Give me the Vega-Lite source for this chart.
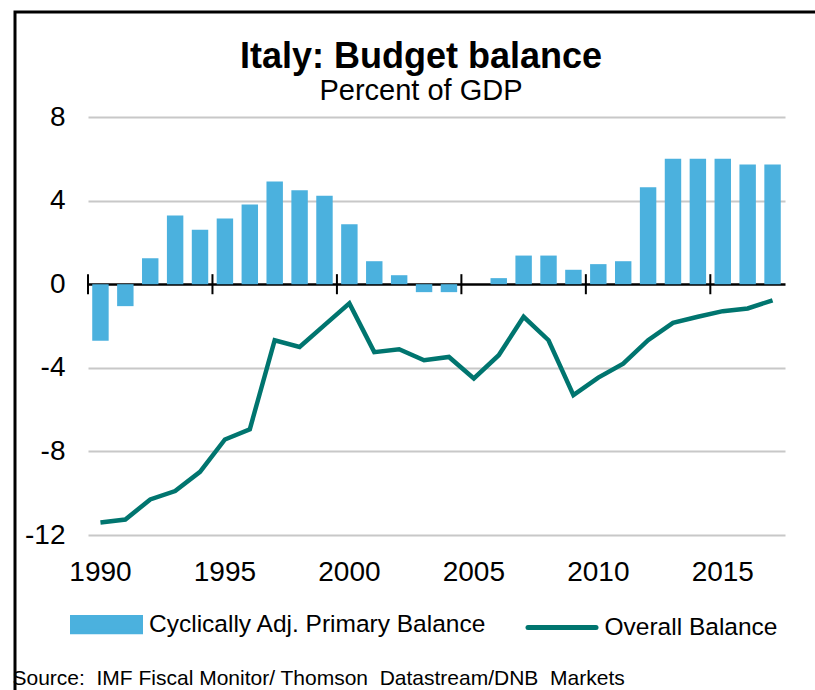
{
  "$schema": "https://vega.github.io/schema/vega-lite/v6.json",
  "width": 800,
  "height": 678,
  "autosize": {"type": "none"},
  "padding": {"left": 15, "top": 12, "right": 0, "bottom": 0},
  "background": "white",
  "config": {
    "font": "Liberation Sans",
    "view": {"stroke": "black", "strokeWidth": 3, "strokeDash": [800, 1478, 700]}
  },
  "title": {
    "text": "Italy: Budget balance",
    "subtitle": "Percent of GDP",
    "fontSize": 36,
    "fontWeight": "bold",
    "subtitleFontSize": 29,
    "color": "black",
    "subtitleColor": "black",
    "anchor": "middle",
    "frame": "group",
    "offset": -95,
    "subtitlePadding": 1,
    "dx": 6
  },
  "datasets": {
    "capb": [
      {"year": 1990, "value": -2.7, "series": "Cyclically Adj. Primary Balance"},
      {"year": 1991, "value": -1.05, "series": "Cyclically Adj. Primary Balance"},
      {"year": 1992, "value": 1.24, "series": "Cyclically Adj. Primary Balance"},
      {"year": 1993, "value": 3.29, "series": "Cyclically Adj. Primary Balance"},
      {"year": 1994, "value": 2.6, "series": "Cyclically Adj. Primary Balance"},
      {"year": 1995, "value": 3.14, "series": "Cyclically Adj. Primary Balance"},
      {"year": 1996, "value": 3.81, "series": "Cyclically Adj. Primary Balance"},
      {"year": 1997, "value": 4.91, "series": "Cyclically Adj. Primary Balance"},
      {"year": 1998, "value": 4.5, "series": "Cyclically Adj. Primary Balance"},
      {"year": 1999, "value": 4.23, "series": "Cyclically Adj. Primary Balance"},
      {"year": 2000, "value": 2.87, "series": "Cyclically Adj. Primary Balance"},
      {"year": 2001, "value": 1.1, "series": "Cyclically Adj. Primary Balance"},
      {"year": 2002, "value": 0.43, "series": "Cyclically Adj. Primary Balance"},
      {"year": 2003, "value": -0.38, "series": "Cyclically Adj. Primary Balance"},
      {"year": 2004, "value": -0.38, "series": "Cyclically Adj. Primary Balance"},
      {"year": 2005, "value": 0, "series": "Cyclically Adj. Primary Balance"},
      {"year": 2006, "value": 0.29, "series": "Cyclically Adj. Primary Balance"},
      {"year": 2007, "value": 1.37, "series": "Cyclically Adj. Primary Balance"},
      {"year": 2008, "value": 1.37, "series": "Cyclically Adj. Primary Balance"},
      {"year": 2009, "value": 0.69, "series": "Cyclically Adj. Primary Balance"},
      {"year": 2010, "value": 0.96, "series": "Cyclically Adj. Primary Balance"},
      {"year": 2011, "value": 1.1, "series": "Cyclically Adj. Primary Balance"},
      {"year": 2012, "value": 4.64, "series": "Cyclically Adj. Primary Balance"},
      {"year": 2013, "value": 6.0, "series": "Cyclically Adj. Primary Balance"},
      {"year": 2014, "value": 6.0, "series": "Cyclically Adj. Primary Balance"},
      {"year": 2015, "value": 6.0, "series": "Cyclically Adj. Primary Balance"},
      {"year": 2016, "value": 5.73, "series": "Cyclically Adj. Primary Balance"},
      {"year": 2017, "value": 5.73, "series": "Cyclically Adj. Primary Balance"}
    ],
    "overall": [
      {"year": 1990, "value": -11.4, "series": "Overall Balance"},
      {"year": 1991, "value": -11.26, "series": "Overall Balance"},
      {"year": 1992, "value": -10.3, "series": "Overall Balance"},
      {"year": 1993, "value": -9.9, "series": "Overall Balance"},
      {"year": 1994, "value": -8.98, "series": "Overall Balance"},
      {"year": 1995, "value": -7.43, "series": "Overall Balance"},
      {"year": 1996, "value": -6.94, "series": "Overall Balance"},
      {"year": 1997, "value": -2.68, "series": "Overall Balance"},
      {"year": 1998, "value": -3.0, "series": "Overall Balance"},
      {"year": 1999, "value": -1.96, "series": "Overall Balance"},
      {"year": 2000, "value": -0.92, "series": "Overall Balance"},
      {"year": 2001, "value": -3.25, "series": "Overall Balance"},
      {"year": 2002, "value": -3.11, "series": "Overall Balance"},
      {"year": 2003, "value": -3.64, "series": "Overall Balance"},
      {"year": 2004, "value": -3.48, "series": "Overall Balance"},
      {"year": 2005, "value": -4.51, "series": "Overall Balance"},
      {"year": 2006, "value": -3.4, "series": "Overall Balance"},
      {"year": 2007, "value": -1.56, "series": "Overall Balance"},
      {"year": 2008, "value": -2.68, "series": "Overall Balance"},
      {"year": 2009, "value": -5.31, "series": "Overall Balance"},
      {"year": 2010, "value": -4.47, "series": "Overall Balance"},
      {"year": 2011, "value": -3.8, "series": "Overall Balance"},
      {"year": 2012, "value": -2.68, "series": "Overall Balance"},
      {"year": 2013, "value": -1.85, "series": "Overall Balance"},
      {"year": 2014, "value": -1.56, "series": "Overall Balance"},
      {"year": 2015, "value": -1.29, "series": "Overall Balance"},
      {"year": 2016, "value": -1.16, "series": "Overall Balance"},
      {"year": 2017, "value": -0.77, "series": "Overall Balance"}
    ],
    "ticks": [
      {"year": 1990}, {"year": 1995}, {"year": 2000}, {"year": 2005}, {"year": 2010}, {"year": 2015}
    ],
    "note": [
      {"text": "Source:\u00a0 IMF Fiscal Monitor/ Thomson\u00a0 Datastream/DNB\u00a0 Markets"}
    ]
  },
  "layer": [
    {
      "data": {"name": "capb"},
      "mark": {"type": "bar", "width": {"band": 0.66}},
      "encoding": {
        "x": {
          "field": "year",
          "type": "ordinal",
          "scale": {"type": "band", "range": [73, 770], "paddingInner": 0, "paddingOuter": 0},
          "axis": {
            "values": [1990, 1995, 2000, 2005, 2010, 2015],
            "labelAngle": 0,
            "domain": false,
            "ticks": false,
            "tickSize": 0,
            "grid": false,
            "labelFontSize": 28,
            "labelColor": "black",
            "labelPadding": 4,
            "offset": -136,
            "title": null
          }
        },
        "y": {
          "field": "value",
          "type": "quantitative",
          "scale": {"domain": [-12, 8], "range": [523, 105], "nice": false, "zero": false},
          "axis": {
            "values": [-12, -8, -4, 0, 4, 8],
            "labelExpr": "'' + datum.value",
            "labelAlign": "right",
            "labelFlush": false,
            "grid": true,
            "gridColor": {"condition": {"test": "datum.value === 0", "value": "black"}, "value": "#c8c8c8"},
            "gridWidth": {"condition": {"test": "datum.value === 0", "value": 2.5}, "value": 2},
            "domain": false,
            "ticks": false,
            "tickSize": 0,
            "labelFontSize": 28,
            "labelColor": "black",
            "labelPadding": 4,
            "labelLimit": 0,
            "offset": -54,
            "title": null
          }
        },
        "color": {
          "field": "series",
          "type": "nominal",
          "scale": {"domain": ["Cyclically Adj. Primary Balance", "Overall Balance"], "range": ["#4bb1de", "#00756f"]},
          "legend": {
            "title": null,
            "orient": "none",
            "legendX": 55,
            "legendY": 576,
            "direction": "horizontal",
            "labelFontSize": 24.5,
            "labelColor": "black",
            "labelOffset": 6,
            "columnPadding": 30.5,
            "symbolSize": 4624,
            "symbolStrokeWidth": 5,
            "labelLimit": 500,
            "encode": {
              "symbols": {
                "update": {
                  "shape": {"signal": "datum.value === 'Overall Balance' ? 'M-1,0H1' : 'M-1,-0.21H1V0.21H-1Z'"},
                  "fill": {"signal": "datum.value === 'Overall Balance' ? 'transparent' : '#4bb1de'"},
                  "stroke": {"signal": "datum.value === 'Overall Balance' ? '#00756f' : 'transparent'"},
                  "strokeWidth": {"value": 5},
                  "strokeCap": {"value": "round"},
                  "opacity": {"value": 1}
                }
              }
            }
          }
        }
      }
    },
    {
      "data": {"name": "overall"},
      "mark": {"type": "line", "strokeWidth": 4.5, "strokeJoin": "miter"},
      "encoding": {
        "x": {"field": "year", "type": "ordinal"},
        "y": {"field": "value", "type": "quantitative"},
        "color": {"field": "series", "type": "nominal"}
      }
    },
    {
      "data": {"name": "ticks"},
      "mark": {"type": "rule", "color": "black", "strokeWidth": 2},
      "encoding": {
        "x": {"field": "year", "type": "ordinal", "bandPosition": 0},
        "y": {"datum": -0.48},
        "y2": {"datum": 0.48}
      }
    },
    {
      "data": {"name": "note"},
      "mark": {"type": "text", "align": "left", "baseline": "middle", "fontSize": 21, "color": "black", "dx": -88},
      "encoding": {
        "x": {"datum": 1990, "type": "ordinal"},
        "y": {"datum": -18.9},
        "text": {"field": "text"}
      }
    }
  ]
}
